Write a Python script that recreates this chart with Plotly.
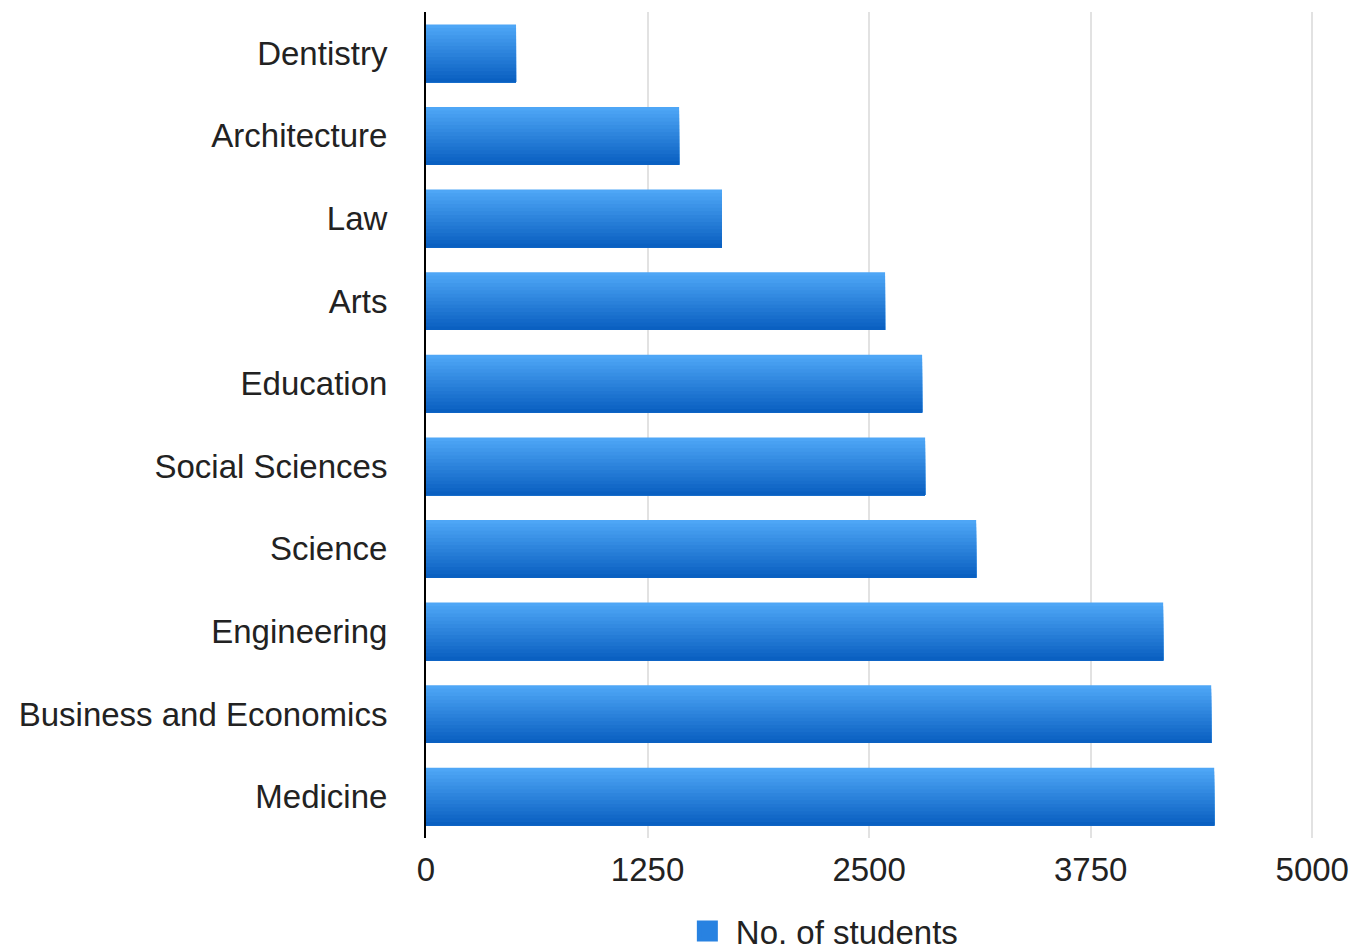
import plotly.graph_objects as go

categories = ["Dentistry", "Architecture", "Law", "Arts", "Education",
              "Social Sciences", "Science", "Engineering",
              "Business and Economics", "Medicine"]
students = [508, 1428, 1670, 2590, 2799, 2816, 3104, 4159, 4430, 4447]
tick_values = [0, 1250, 2500, 3750, 5000]
tick_labels = ["0", "1250", "2500", "3750", "5000"]
series_name = "No. of students"

top_rgb = (78, 166, 246)
bot_rgb = (10, 96, 193)
n_strips = 16
bar_w = 0.7

fig = go.Figure()
for i in range(n_strips):
    t = i / (n_strips - 1)
    c = tuple(round(top_rgb[k] + (bot_rgb[k] - top_rgb[k]) * t) for k in range(3))
    step = bar_w / n_strips
    off = -bar_w / 2 + i * step
    fig.add_trace(go.Bar(
        x=students, y=categories, orientation="h",
        width=bar_w - i * step, offset=off,
        marker=dict(color="rgb(%d,%d,%d)" % c, line=dict(width=0)),
        showlegend=False, hoverinfo="skip",
    ))

fig.add_trace(go.Scatter(
    x=[None], y=[None], mode="markers", name=series_name,
    marker=dict(symbol="square", size=16, color="rgb(40,130,225)",
                line=dict(width=8, color="rgb(40,130,225)")),
    showlegend=True,
))

font_family = "Liberation Sans, Arial, Helvetica, sans-serif"
fig.update_layout(
    width=1358, height=951,
    margin=dict(l=418, r=52, t=4, b=121, autoexpand=False),
    paper_bgcolor="white", plot_bgcolor="white",
    barmode="overlay",
    font=dict(family=font_family, size=33, color="#222222"),
    xaxis=dict(
        range=[0, 5010], tickvals=tick_values, ticktext=tick_labels,
        showgrid=True, gridcolor="#e2e2e2", gridwidth=1.5,
        zeroline=False, showline=False, ticks="",
        ticklabelstandoff=9, automargin=False,
        tickfont=dict(size=33, color="#222222"),
    ),
    yaxis=dict(
        categoryorder="array", categoryarray=categories,
        autorange="reversed",
        showgrid=False, zeroline=False,
        showline=True, linecolor="black", linewidth=2,
        ticks="", ticklabelstandoff=30, automargin=False,
        tickfont=dict(size=33, color="#222222"),
    ),
    legend=dict(
        orientation="h", xref="container", yref="container",
        x=0.494, y=0.0294, xanchor="left", yanchor="middle",
        font=dict(size=33, color="#222222"),
        itemsizing="trace", itemwidth=47,
    ),
)

fig.write_html("out.html")
